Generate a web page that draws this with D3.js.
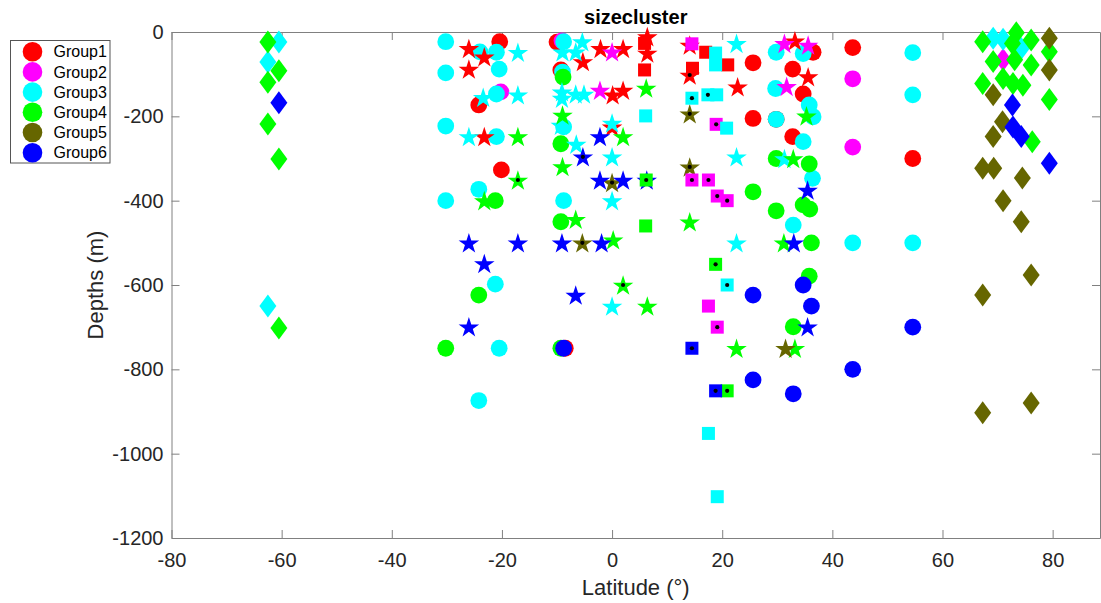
<!DOCTYPE html>
<html><head><meta charset="utf-8">
<script src="https://cdn.jsdelivr.net/npm/d3@7"></script>
<style>body{margin:0;background:#fff;} svg{display:block;font-family:"Liberation Sans",Arial,sans-serif;}</style>
</head><body>
<svg id="chart" width="1101" height="603"></svg>
<script>
// ---- data (latitude °, depth m) ----
const groupNames = ["Group1","Group2","Group3","Group4","Group5","Group6"];
const xTicks = [-80,-60,-40,-20,0,20,40,60,80];
const yTicks = [0,-200,-400,-600,-800,-1000,-1200];

const g1Circle = [[-20.4,-23],[-24.2,-173],[-20.1,-327],[-10.0,-24],[-9.3,-90],[-8.5,-750],[25.6,-73],[25.6,-205],[36.5,-48],[32.8,-88],[34.7,-147],[29.8,-207],[32.8,-248],[43.7,-37],[54.6,-300]];
const g1Star = [[-26,-39],[-23.2,-59],[-26,-88],[-23.2,-248],[-2.1,-39],[2,-39],[-5.3,-70],[0.1,-149],[2,-138],[0,-225],[6.4,-11],[6.4,-50],[14.1,-31],[14.1,-102],[22.8,-130],[33.2,-21],[35.6,-106]];
const g1Square = [[5.9,-27],[5.9,-90],[14.6,-86],[17,-48],[21,-78]];

const g2Circle = [[-20.2,-142],[-9.1,-21],[43.7,-111],[43.7,-273]];
const g2Star = [[0,-47],[-2.2,-138],[31.3,-27],[35.6,-31],[31.7,-129]];
const g2Square = [[14.5,-28],[18.9,-219],[14.5,-351],[17.5,-351],[19.1,-389],[20.9,-400],[17.5,-650],[19.1,-700]];
const g2Diamond = [[71,-66]];

const g3Circle = [[-30.2,-23],[-30.2,-97],[-30.2,-223],[-30.2,-400],[-24,-47],[-21,-48],[-20.5,-88],[-21,-147],[-21,-248],[-24.2,-373],[-8.8,-23],[-9,-95],[-8.8,-225],[-8.8,-400],[-21.2,-598],[-20.5,-750],[-24.2,-874],[29.8,-48],[34.7,-51],[29.7,-134],[35.8,-173],[36.5,-201],[29.8,-207],[34.7,-260],[36.4,-347],[32.9,-458],[43.7,-500],[54.6,-49],[54.6,-149],[54.6,-500]];
const g3Star = [[-17.1,-48],[-23.4,-155],[-17.1,-149],[-26,-248],[-5.4,-23],[-9,-47],[-6.6,-47],[-9.1,-142],[-9.1,-157],[-6.6,-147],[-5.1,-147],[-9.3,-221],[0,-216],[-6.5,-266],[0,-296],[0,-400],[22.6,-27],[22.6,-296],[31.3,-300],[22.6,-500],[0,-650]];
const g3Square = [[18.8,-50],[18.8,-78],[6.1,-199],[14.5,-157],[17.4,-149],[19,-149],[20.8,-228],[20.9,-600],[17.5,-952],[19.1,-1102]];
const g3Diamond = [[-60.5,-24],[-62.5,-71],[-62.5,-650],[69.2,-15],[71,-17],[74.3,-39]];

const g4Circle = [[-8.9,-107],[-9.3,-265],[-9.3,-450],[-21.2,-400],[-24.2,-624],[-30.2,-750],[-9.3,-750],[29.8,-300],[35.8,-313],[25.6,-379],[29.8,-424],[34.7,-410],[35.9,-420],[36.2,-500],[35.8,-579],[32.9,-699]];
const g4Star = [[-17.1,-248],[-17.1,-351],[-23.2,-400],[-6.6,-444],[-9,-319],[-9,-197],[2,-248],[6.2,-133],[0.2,-493],[14.1,-450],[2,-600],[6.4,-650],[22.6,-750],[35.3,-199],[32.9,-300],[31.2,-500],[33.2,-750]];
const g4Square = [[6.1,-460],[6.2,-351],[18.8,-551],[20.9,-851]];
const g4Diamond = [[-62.5,-24],[-60.5,-92],[-62.5,-119],[-62.5,-218],[-60.5,-301],[-60.5,-702],[67.3,-23],[73.4,-2],[72.7,-27],[76.1,-19],[79.4,-47],[69.2,-70],[73.1,-66],[76.1,-78],[67.3,-122],[71,-110],[72.8,-122],[74.6,-126],[79.4,-160],[76.3,-260]];

const g5Star = [[14.1,-194],[14.1,-320],[0,-357],[-5.4,-500],[31.5,-750]];
const g5Diamond = [[79.4,-15],[79.4,-90],[69.2,-149],[70.9,-213],[69.2,-248],[67.3,-323],[69.3,-323],[74.5,-346],[71,-400],[74.3,-450],[76.1,-576],[67.3,-624],[76.1,-880],[67.3,-903]];

const g6Circle = [[-8.8,-750],[34.7,-600],[25.6,-624],[36.2,-650],[54.6,-700],[43.7,-800],[25.6,-825],[32.9,-858]];
const g6Star = [[-26,-500],[-17.1,-500],[-9.1,-500],[-1.9,-500],[-23.2,-549],[-6.6,-624],[-26,-699],[-2.2,-248],[-5.3,-296],[-2.2,-351],[2,-351],[6.3,-351],[35.5,-375],[33,-500],[35.5,-699]];
const g6Square = [[14.5,-750],[18.8,-851]];
const g6Diamond = [[-60.5,-168],[72.7,-173],[72.8,-225],[74.3,-248],[79.4,-311]];

const dotted = [[-17.1,-351],[-5.3,-296],[0,-357],[6.2,-351],[14.1,-102],[14.5,-157],[17.4,-149],[14.1,-194],[14.1,-320],[18.9,-219],[14.5,-351],[17.5,-351],[19.1,-389],[20.9,-400],[-5.4,-500],[18.8,-551],[2,-600],[20.9,-600],[19.1,-700],[14.5,-750],[18.8,-851],[20.9,-851]];

// ---- styles ----
const colors = ["#ff0000","#ff00ff","#00ffff","#00ff00","#666600","#0000ff"];
const circles = [g1Circle,g2Circle,g3Circle,g4Circle,[],g6Circle];
const stars = [g1Star,g2Star,g3Star,g4Star,g5Star,g6Star];
const squares = [g1Square,g2Square,g3Square,g4Square,[],g6Square];
const diamonds = [[],g2Diamond,g3Diamond,g4Diamond,g5Diamond,g6Diamond];

const svg = d3.select("#chart");
const L = 171.5, R = 1100, T = 32, B = 538;
const x = d3.scaleLinear().domain([-80, 88.6]).range([L, R]);
const y = d3.scaleLinear().domain([-1200, 0]).range([B, T]);

function starPath(r){
  const ri = r*0.382; let p = "";
  for(let i=0;i<10;i++){
    const a = -Math.PI/2 + i*Math.PI/5;
    const rr = i%2===0 ? r : ri;
    p += (i?"L":"M") + (rr*Math.cos(a)).toFixed(2) + "," + (rr*Math.sin(a)).toFixed(2);
  }
  return p + "Z";
}
const STAR = starPath(10.8);
const DIAM = "M0,-11.5L8.5,0L0,11.5L-8.5,0Z";
const SQ = "M-6.5,-6.5L6.5,-6.5L6.5,6.5L-6.5,6.5Z";

const axisColor = "#808080", textColor = "#262626";

// axes
const gx = svg.append("g").attr("transform",`translate(0,${B})`)
  .call(d3.axisBottom(x).tickValues(xTicks).tickSize(-8).tickPadding(15).tickSizeOuter(0));
const gxt = svg.append("g").attr("transform",`translate(0,${T})`)
  .call(d3.axisTop(x).tickValues(xTicks).tickSize(-8).tickFormat("").tickSizeOuter(0));
const gy = svg.append("g").attr("transform",`translate(${L},0)`)
  .call(d3.axisLeft(y).tickValues(yTicks).tickSize(-8).tickPadding(8).tickSizeOuter(0));
const gyr = svg.append("g").attr("transform",`translate(${R},0)`)
  .call(d3.axisRight(y).tickValues(yTicks).tickSize(-8).tickFormat("").tickSizeOuter(0));
[gx,gxt,gy,gyr].forEach(g=>{
  g.selectAll("path.domain").attr("stroke",axisColor);
  g.selectAll(".tick line").attr("stroke",axisColor);
  g.selectAll(".tick text").attr("fill",textColor).attr("font-size","20px").attr("font-family","Liberation Sans, Arial, sans-serif");
});
gx.selectAll(".tick text").text(d=>d<0?"-"+Math.abs(d):d);
gy.selectAll(".tick text").text(d=>d<0?"-"+Math.abs(d):d);

const plot = svg.append("g");
// circles
circles.forEach((arr,i)=>{
  plot.selectAll(null).data(arr).enter().append("circle")
    .attr("cx",d=>x(d[0])).attr("cy",d=>y(d[1])).attr("r",8.4).attr("fill",colors[i]);
});
stars.forEach((arr,i)=>{
  plot.selectAll(null).data(arr).enter().append("path").attr("d",STAR)
    .attr("transform",d=>`translate(${x(d[0])},${y(d[1])+1})`).attr("fill",colors[i]);
});
squares.forEach((arr,i)=>{
  plot.selectAll(null).data(arr).enter().append("path").attr("d",SQ)
    .attr("transform",d=>`translate(${x(d[0])},${y(d[1])})`).attr("fill",colors[i]);
});
diamonds.forEach((arr,i)=>{
  plot.selectAll(null).data(arr).enter().append("path").attr("d",DIAM)
    .attr("transform",d=>`translate(${x(d[0])},${y(d[1])})`).attr("fill",colors[i]);
});
plot.selectAll(null).data(dotted).enter().append("circle")
  .attr("cx",d=>x(d[0])).attr("cy",d=>y(d[1])).attr("r",2.1).attr("fill","#000");

// title & labels
svg.append("text").attr("x",(L+R)/2).attr("y",24).attr("text-anchor","middle")
  .attr("font-size","20px").attr("font-weight","bold").attr("fill","#000").text("sizecluster");
svg.append("text").attr("x",(L+R)/2).attr("y",595).attr("text-anchor","middle")
  .attr("font-size","22px").attr("fill",textColor).text("Latitude (°)");
svg.append("text").attr("transform",`translate(103,${(T+B)/2}) rotate(-90)`).attr("text-anchor","middle")
  .attr("font-size","22px").attr("fill",textColor).text("Depths (m)");

// legend
const lg = svg.append("g");
lg.append("rect").attr("x",10.5).attr("y",40.5).attr("width",99.5).attr("height",122.5)
  .attr("fill","#fff").attr("stroke","#555").attr("stroke-width",1);
groupNames.forEach((n,i)=>{
  const yy = 51.7 + i*20.2;
  lg.append("circle").attr("cx",32.5).attr("cy",yy).attr("r",9.8).attr("fill",colors[i]);
  lg.append("text").attr("x",53.5).attr("y",yy+5.6).attr("font-size","16px").attr("fill","#000").text(n);
});
</script>
</body></html>
